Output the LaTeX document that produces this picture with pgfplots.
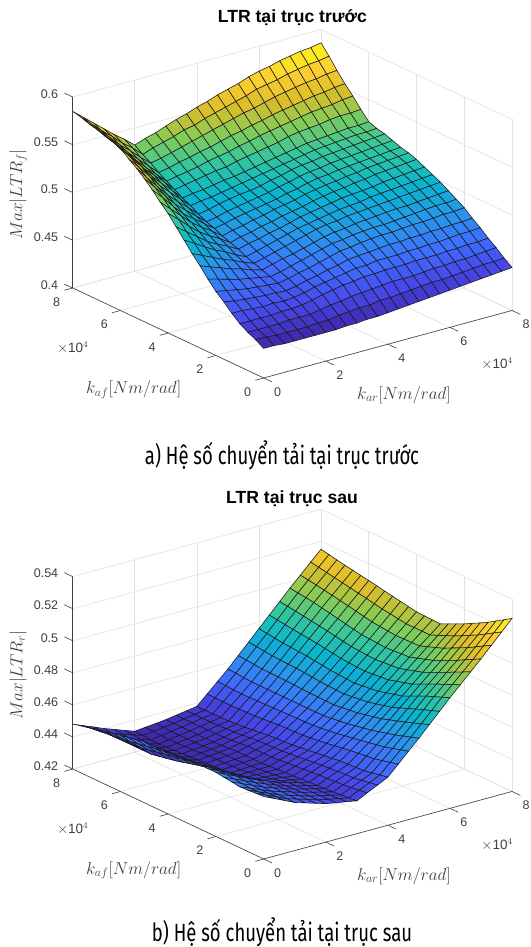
\documentclass[border=0pt]{standalone}
\usepackage{fontspec}
\setmainfont{Liberation Sans}
\newfontfamily\capfont[FakeStretch=0.74]{Fira Sans}
\usepackage{pgfplots}
\pgfplotsset{compat=1.18}
\definecolor{axc}{HTML}{404040}
\definecolor{grd}{HTML}{E2E2E2}
\pgfplotsset{
 colormap={parula}{rgb=(.2422,.1504,.6603) rgb=(.2803,.2782,.9221) rgb=(.2440,.4358,.9988) rgb=(.1540,.5902,.9218) rgb=(.0297,.7082,.8163) rgb=(.1938,.7758,.6251) rgb=(.5044,.7993,.3480) rgb=(.8634,.7406,.1596) rgb=(.9892,.8136,.1885) rgb=(.9769,.9839,.0805)},
 ltr/.style={
  x={(31.04pt,8.44pt)}, y={(-23.875pt,11.25pt)},
  anchor=origin, clip=false, xmin=0,xmax=8,ymin=0,ymax=8,
  xtick={0,2,4,6,8}, ytick={0,2,4,6,8},
  grid=major, major grid style={grd,line width=.6pt},
  axis line style={draw=none}, major tick length=0pt,
  tick label style={font=\fontsize{12.5}{14}\selectfont,text=axc},
  /pgf/number format/assume math mode=true,
  /pgf/number format/fixed,
  xticklabel style={anchor=center,xshift=14pt,yshift=-14pt},
  yticklabel style={anchor=center,xshift=-16pt,yshift=-14pt},
  zticklabel style={anchor=east,xshift=-11pt,yshift=3pt},
 },
 surfst/.style={surf,shader=faceted,z buffer=sort,faceted color=black!90,line width=.55pt,colormap name=parula,mesh/cols=25},
 table/gridtab/.style={header=false,row sep=crcr,x expr={mod(\coordindex,25)/3},y expr={floor((\coordindex+0.5)/25)/3},z index=0},
}
\newcommand\decor[4]{% zmin zmax (z ticks)
 \draw[axc,line width=.6pt] (axis cs:0,8,#1)--(axis cs:0,0,#1)--(axis cs:8,0,#1);
 \draw[axc,line width=.6pt] (axis cs:0,8,#1)--(axis cs:0,8,#2);
 \pgfplotsinvokeforeach{0,2,4,6,8}{\draw[axc,line width=.6pt] (axis cs:##1,0,#1)--(axis cs:##1,-.35,#1);
 \draw[axc,line width=.6pt] (axis cs:0,##1,#1)--(axis cs:-.27,##1,#1);}
 \pgfplotsinvokeforeach{#3}{\draw[axc,line width=.6pt] (axis cs:0,8,##1)--(axis cs:0,8.35,##1);}
}
\begin{document}
\begin{tikzpicture}[x=1pt,y=1pt]
\path[use as bounding box,fill=white] (0,0) rectangle (530,947);
\begin{axis}[ltr,at={(263.7pt,569pt)},z={(0pt,955pt)},zmin=.4,zmax=.6,ztick={.4,.45,.5,.55,.6},
 zticklabels={0.4,0.45,0.5,0.55,0.6}]
\addplot3[surfst] table[gridtab]{
.431\\.431\\.430\\.430\\.430\\.430\\.430\\.430\\.431\\.431\\.432\\.432\\.433\\.434\\.435\\.436\\.437\\.438\\.439\\.440\\.441\\.442\\.443\\.444\\.445\\
.436\\.436\\.435\\.435\\.435\\.435\\.436\\.436\\.438\\.439\\.440\\.440\\.442\\.442\\.443\\.444\\.445\\.446\\.446\\.447\\.448\\.449\\.450\\.450\\.451\\
.440\\.440\\.440\\.440\\.441\\.441\\.441\\.443\\.445\\.446\\.448\\.449\\.450\\.451\\.452\\.452\\.452\\.453\\.454\\.454\\.455\\.455\\.456\\.457\\.458\\
.445\\.445\\.445\\.445\\.446\\.446\\.447\\.449\\.452\\.454\\.456\\.457\\.459\\.459\\.460\\.460\\.460\\.461\\.461\\.461\\.462\\.462\\.463\\.463\\.464\\
.452\\.452\\.451\\.450\\.451\\.450\\.451\\.453\\.456\\.458\\.460\\.462\\.464\\.464\\.466\\.466\\.466\\.467\\.467\\.468\\.468\\.469\\.470\\.470\\.471\\
.460\\.458\\.457\\.456\\.455\\.455\\.454\\.456\\.459\\.461\\.464\\.466\\.469\\.470\\.471\\.472\\.473\\.473\\.474\\.474\\.475\\.475\\.476\\.476\\.477\\
.467\\.465\\.463\\.461\\.460\\.459\\.458\\.460\\.463\\.465\\.468\\.471\\.474\\.475\\.477\\.478\\.479\\.479\\.480\\.481\\.481\\.482\\.483\\.483\\.484\\
.476\\.473\\.470\\.467\\.465\\.463\\.461\\.463\\.466\\.469\\.472\\.475\\.478\\.479\\.481\\.482\\.483\\.483\\.484\\.485\\.486\\.487\\.488\\.488\\.489\\
.486\\.482\\.478\\.474\\.471\\.467\\.464\\.467\\.470\\.472\\.475\\.478\\.481\\.483\\.484\\.486\\.487\\.488\\.489\\.490\\.490\\.491\\.492\\.493\\.494\\
.495\\.490\\.485\\.480\\.476\\.471\\.467\\.470\\.473\\.476\\.479\\.482\\.485\\.487\\.488\\.490\\.491\\.492\\.493\\.494\\.495\\.496\\.497\\.498\\.499\\
.505\\.499\\.492\\.486\\.481\\.475\\.470\\.473\\.476\\.479\\.482\\.485\\.487\\.489\\.491\\.493\\.494\\.495\\.497\\.498\\.499\\.500\\.501\\.502\\.503\\
.515\\.507\\.499\\.491\\.485\\.480\\.474\\.477\\.479\\.482\\.484\\.487\\.490\\.492\\.494\\.496\\.498\\.499\\.500\\.501\\.503\\.504\\.505\\.506\\.507\\
.525\\.516\\.506\\.497\\.490\\.484\\.477\\.480\\.482\\.485\\.487\\.490\\.492\\.494\\.497\\.499\\.501\\.502\\.504\\.505\\.507\\.508\\.509\\.510\\.511\\
.533\\.523\\.513\\.503\\.495\\.488\\.480\\.483\\.485\\.488\\.490\\.493\\.495\\.497\\.500\\.502\\.504\\.505\\.507\\.508\\.510\\.511\\.512\\.513\\.514\\
.542\\.531\\.519\\.508\\.500\\.492\\.484\\.486\\.489\\.491\\.493\\.495\\.497\\.500\\.502\\.505\\.507\\.508\\.510\\.511\\.512\\.513\\.514\\.515\\.516\\
.550\\.538\\.526\\.514\\.505\\.496\\.487\\.489\\.492\\.494\\.496\\.498\\.500\\.503\\.505\\.508\\.510\\.511\\.513\\.514\\.515\\.516\\.517\\.518\\.519\\
.557\\.544\\.532\\.520\\.510\\.501\\.491\\.493\\.496\\.498\\.500\\.501\\.503\\.506\\.508\\.511\\.513\\.514\\.516\\.517\\.518\\.519\\.520\\.521\\.522\\
.563\\.551\\.539\\.526\\.516\\.506\\.496\\.498\\.499\\.501\\.503\\.505\\.507\\.509\\.511\\.513\\.515\\.517\\.519\\.520\\.521\\.522\\.523\\.523\\.524\\
.570\\.557\\.545\\.532\\.521\\.511\\.500\\.502\\.503\\.505\\.507\\.508\\.510\\.512\\.514\\.516\\.518\\.520\\.522\\.523\\.524\\.525\\.526\\.526\\.527\\
.573\\.560\\.549\\.536\\.526\\.516\\.505\\.507\\.509\\.511\\.513\\.514\\.517\\.519\\.521\\.523\\.525\\.528\\.530\\.531\\.532\\.534\\.535\\.535\\.536\\
.575\\.564\\.552\\.541\\.530\\.520\\.510\\.512\\.514\\.516\\.519\\.521\\.523\\.526\\.528\\.531\\.533\\.535\\.537\\.539\\.541\\.542\\.543\\.545\\.546\\
.578\\.567\\.556\\.545\\.535\\.525\\.515\\.517\\.520\\.522\\.525\\.527\\.530\\.533\\.535\\.538\\.540\\.543\\.545\\.547\\.549\\.551\\.552\\.554\\.555\\
.580\\.570\\.560\\.549\\.540\\.530\\.521\\.523\\.526\\.529\\.532\\.535\\.538\\.541\\.544\\.547\\.549\\.552\\.555\\.557\\.559\\.561\\.562\\.564\\.565\\
.583\\.573\\.563\\.554\\.544\\.536\\.526\\.530\\.533\\.536\\.540\\.542\\.546\\.549\\.552\\.555\\.558\\.562\\.564\\.566\\.569\\.571\\.573\\.574\\.576\\
.585\\.576\\.567\\.558\\.549\\.541\\.532\\.536\\.539\\.543\\.547\\.550\\.554\\.557\\.561\\.564\\.567\\.571\\.574\\.576\\.579\\.581\\.583\\.584\\.586\\
};
\decor{.4}{.6}{.4,.45,.5,.55,.6}{}
\end{axis}
\begin{axis}[ltr,at={(263.7pt,88pt)},z={(0pt,1603pt)},zmin=.42,zmax=.54,ztick={.42,.44,.46,.48,.5,.52,.54},
 zticklabels={0.42,0.44,0.46,0.48,0.5,0.52,0.54}]
\addplot3[surfst] table[gridtab]{
.4590\\.4560\\.4530\\.4500\\.4480\\.4460\\.4440\\.4428\\.4417\\.4405\\.4437\\.4468\\.4500\\.4563\\.4627\\.4690\\.4757\\.4823\\.4890\\.4953\\.5017\\.5080\\.5147\\.5213\\.5280\\
.4587\\.4558\\.4529\\.4500\\.4480\\.4460\\.4440\\.4426\\.4414\\.4400\\.4430\\.4460\\.4490\\.4551\\.4612\\.4673\\.4739\\.4804\\.4870\\.4931\\.4992\\.5053\\.5119\\.5183\\.5248\\
.4583\\.4555\\.4528\\.4500\\.4480\\.4460\\.4440\\.4425\\.4410\\.4395\\.4423\\.4451\\.4480\\.4539\\.4597\\.4657\\.4721\\.4786\\.4850\\.4909\\.4968\\.5027\\.5090\\.5153\\.5217\\
.4580\\.4553\\.4527\\.4500\\.4480\\.4460\\.4440\\.4423\\.4407\\.4390\\.4417\\.4443\\.4470\\.4527\\.4583\\.4640\\.4703\\.4767\\.4830\\.4887\\.4943\\.5000\\.5062\\.5123\\.5185\\
.4587\\.4559\\.4531\\.4503\\.4481\\.4459\\.4437\\.4420\\.4404\\.4387\\.4414\\.4440\\.4467\\.4520\\.4573\\.4627\\.4686\\.4747\\.4807\\.4864\\.4920\\.4977\\.5037\\.5098\\.5158\\
.4593\\.4564\\.4536\\.4507\\.4482\\.4458\\.4433\\.4416\\.4400\\.4383\\.4410\\.4436\\.4463\\.4514\\.4563\\.4613\\.4670\\.4727\\.4783\\.4840\\.4896\\.4953\\.5013\\.5072\\.5132\\
.4600\\.4570\\.4540\\.4510\\.4483\\.4457\\.4430\\.4413\\.4397\\.4380\\.4407\\.4433\\.4460\\.4507\\.4553\\.4600\\.4653\\.4707\\.4760\\.4817\\.4873\\.4930\\.4988\\.5047\\.5105\\
.4600\\.4568\\.4536\\.4503\\.4473\\.4444\\.4413\\.4401\\.4389\\.4377\\.4402\\.4428\\.4453\\.4499\\.4544\\.4590\\.4642\\.4695\\.4747\\.4802\\.4858\\.4913\\.4969\\.5026\\.5082\\
.4600\\.4565\\.4531\\.4497\\.4463\\.4430\\.4397\\.4389\\.4381\\.4373\\.4398\\.4422\\.4447\\.4491\\.4536\\.4580\\.4631\\.4682\\.4733\\.4788\\.4842\\.4897\\.4951\\.5004\\.5058\\
.4600\\.4563\\.4527\\.4490\\.4453\\.4417\\.4380\\.4377\\.4373\\.4370\\.4393\\.4417\\.4440\\.4483\\.4527\\.4570\\.4620\\.4670\\.4720\\.4773\\.4827\\.4880\\.4932\\.4983\\.5035\\
.4597\\.4556\\.4517\\.4477\\.4441\\.4406\\.4370\\.4369\\.4368\\.4367\\.4389\\.4411\\.4433\\.4476\\.4520\\.4563\\.4613\\.4663\\.4713\\.4768\\.4822\\.4877\\.4930\\.4983\\.5037\\
.4593\\.4550\\.4507\\.4463\\.4429\\.4394\\.4360\\.4361\\.4362\\.4363\\.4384\\.4406\\.4427\\.4470\\.4513\\.4557\\.4607\\.4657\\.4707\\.4762\\.4818\\.4873\\.4929\\.4983\\.5038\\
.4590\\.4543\\.4497\\.4450\\.4417\\.4383\\.4350\\.4353\\.4357\\.4360\\.4380\\.4400\\.4420\\.4463\\.4507\\.4550\\.4600\\.4650\\.4700\\.4757\\.4813\\.4870\\.4927\\.4983\\.5040\\
.4587\\.4536\\.4487\\.4437\\.4407\\.4376\\.4347\\.4351\\.4356\\.4360\\.4379\\.4398\\.4417\\.4461\\.4506\\.4550\\.4601\\.4652\\.4703\\.4760\\.4816\\.4873\\.4932\\.4990\\.5049\\
.4583\\.4530\\.4477\\.4423\\.4397\\.4370\\.4343\\.4349\\.4354\\.4360\\.4378\\.4395\\.4413\\.4459\\.4504\\.4550\\.4602\\.4654\\.4707\\.4763\\.4820\\.4877\\.4937\\.4998\\.5058\\
.4580\\.4523\\.4467\\.4410\\.4387\\.4363\\.4340\\.4347\\.4353\\.4360\\.4377\\.4393\\.4410\\.4457\\.4503\\.4550\\.4603\\.4657\\.4710\\.4767\\.4823\\.4880\\.4942\\.5005\\.5067\\
.4570\\.4513\\.4457\\.4400\\.4379\\.4358\\.4337\\.4344\\.4350\\.4357\\.4372\\.4388\\.4403\\.4452\\.4501\\.4550\\.4605\\.4661\\.4717\\.4775\\.4832\\.4890\\.4952\\.5014\\.5076\\
.4560\\.4503\\.4447\\.4390\\.4371\\.4352\\.4333\\.4340\\.4346\\.4353\\.4368\\.4382\\.4397\\.4448\\.4499\\.4550\\.4608\\.4666\\.4723\\.4782\\.4841\\.4900\\.4962\\.5024\\.5086\\
.4550\\.4493\\.4437\\.4380\\.4363\\.4347\\.4330\\.4337\\.4343\\.4350\\.4363\\.4377\\.4390\\.4443\\.4497\\.4550\\.4610\\.4670\\.4730\\.4790\\.4850\\.4910\\.4972\\.5033\\.5095\\
.4540\\.4486\\.4434\\.4380\\.4362\\.4345\\.4327\\.4335\\.4342\\.4350\\.4362\\.4375\\.4387\\.4441\\.4496\\.4550\\.4611\\.4672\\.4733\\.4796\\.4858\\.4920\\.4981\\.5042\\.5103\\
.4530\\.4480\\.4430\\.4380\\.4361\\.4342\\.4323\\.4332\\.4341\\.4350\\.4361\\.4372\\.4383\\.4439\\.4494\\.4550\\.4612\\.4674\\.4737\\.4801\\.4865\\.4930\\.4991\\.5051\\.5112\\
.4520\\.4473\\.4427\\.4380\\.4360\\.4340\\.4320\\.4330\\.4340\\.4350\\.4360\\.4370\\.4380\\.4437\\.4493\\.4550\\.4613\\.4677\\.4740\\.4807\\.4873\\.4940\\.5000\\.5060\\.5120\\
.4507\\.4466\\.4427\\.4387\\.4366\\.4344\\.4323\\.4332\\.4341\\.4350\\.4360\\.4370\\.4380\\.4438\\.4495\\.4553\\.4618\\.4682\\.4747\\.4814\\.4880\\.4947\\.5008\\.5069\\.5130\\
.4493\\.4460\\.4427\\.4393\\.4371\\.4349\\.4327\\.4335\\.4342\\.4350\\.4360\\.4370\\.4380\\.4439\\.4498\\.4557\\.4622\\.4688\\.4753\\.4820\\.4887\\.4953\\.5016\\.5078\\.5140\\
.4480\\.4453\\.4427\\.4400\\.4377\\.4353\\.4330\\.4337\\.4343\\.4350\\.4360\\.4370\\.4380\\.4440\\.4500\\.4560\\.4627\\.4693\\.4760\\.4827\\.4893\\.4960\\.5023\\.5087\\.5150\\
};
\decor{.42}{.54}{.42,.44,.46,.48,.5,.52,.54}{}
\end{axis}
\def\LBL{\fontsize{17.6}{19}\selectfont\color{axc}}
\def\TT{\fontsize{17.6}{20}\selectfont\bfseries}
\def\XT{\fontsize{13.5}{14}\selectfont\color{axc}}
\def\CP{\capfont\fontsize{25}{28}\selectfont}
\node[font=\TT] at (292.4,947-17.6) {LTR tại trục trước};
\node at (133.6,947-389.5) {\LBL$k_{af}[Nm/rad]$};
\node at (404,947-395) {\LBL$k_{ar}[Nm/rad]$};
\node[rotate=90] at (18,947-194.5) {\LBL$Max|LTR_f|$};
\node at (72.7,947-347.6) {\XT$\times$10$^{4}$};
\node at (497,947-363.5) {\XT$\times$10$^{4}$};
\node at (282,947-455) {\CP a) Hệ số chuyển tải tại trục trước};
\node[font=\TT] at (292,947-498.6) {LTR tại trục sau};
\node at (133.6,947-870) {\LBL$k_{af}[Nm/rad]$};
\node at (404,947-876) {\LBL$k_{ar}[Nm/rad]$};
\node[rotate=90] at (18,947-675) {\LBL$Max|LTR_r|$};
\node at (72.7,947-828.4) {\XT$\times$10$^{4}$};
\node at (497,947-844.7) {\XT$\times$10$^{4}$};
\node at (282,947-932.5) {\CP b) Hệ số chuyển tải tại trục sau};
\end{tikzpicture}
\end{document}
